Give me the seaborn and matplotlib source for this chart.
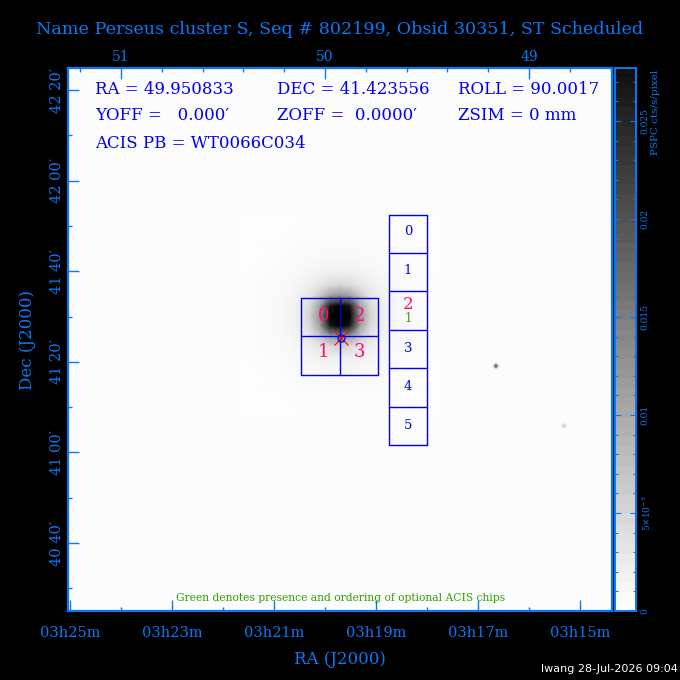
import numpy as np
import pandas as pd
import matplotlib.pyplot as plt
import seaborn as sns
from matplotlib.ticker import FixedLocator, NullFormatter

# sky frame of the image, in degrees
ra_limits = [51.26, 48.593]
dec_limits = [40.417, 42.414]

# RA ticks, bottom edge (hours/minutes) and top edge (degrees)
ra_major = [51.25, 50.75, 50.25, 49.75, 49.25, 48.75]
ra_major_labels = ["03h25m", "03h23m", "03h21m", "03h19m", "03h17m", "03h15m"]
ra_minor = [51.0, 50.5, 50.0, 49.5, 49.0]
top_major = [51, 50, 49]
top_minor = [51.2, 50.8, 50.6, 50.4, 50.2, 49.8, 49.6, 49.4, 49.2, 48.8, 48.6]

dec_major = [42.3333, 42.0, 41.6667, 41.3333, 41.0, 40.6667]
dec_major_labels = ["42 20\u2032", "42 00\u2032", "41 40\u2032", "41 20\u2032", "41 00\u2032", "40 40\u2032"]
dec_minor = [42.1667, 41.8333, 41.5, 41.1667, 40.8333, 40.5]

# surface brightness around the cluster core, 1e-4 PSPC cts/s/pixel, 10 px per cell
# one quadrant, centre at the top left, mirrored below
core_quadrant = np.array([
    [400, 330, 120, 50, 22, 12, 8, 6, 5, 4, 3],
    [330, 250, 105, 42, 21, 12, 8, 6, 5, 4, 3],
    [120, 105, 60, 30, 16, 10, 7, 6, 5, 4, 3],
    [50, 42, 30, 19, 12, 8, 7, 6, 5, 4, 3],
    [22, 21, 16, 12, 9, 7, 6, 5, 4, 4, 3],
    [12, 12, 10, 8, 7, 6, 5, 4, 4, 3, 3],
    [8, 8, 7, 7, 6, 5, 4, 4, 3, 3, 3],
    [6, 6, 6, 6, 5, 4, 4, 4, 3, 3, 3],
    [5, 5, 5, 5, 4, 4, 3, 3, 3, 3, 3],
    [4, 4, 4, 4, 4, 3, 3, 3, 3, 3, 3],
    [3, 3, 3, 3, 3, 3, 3, 3, 3, 3, 3],
])

# faint point sources, bright centre and soft halo
source_ra = [49.162, 48.828]
source_dec = [41.318, 41.098]
source_rate = [0.016, 0.005]
halo_rate = [0.004, 0.0015]

# ACIS-I and ACIS-S chip edges
acis_i_ra = [50.1176, 49.9289, 49.7402]
acis_i_dec = [41.5686, 41.4271, 41.2853]
acis_s_ra = [49.6863, 49.5]
acis_s_dec = [41.8735, 41.734, 41.594, 41.451, 41.311, 41.168, 41.028]

acis_i_labels = ["0", "1", "2", "3"]
acis_i_label_ra = [50.005, 50.005, 49.833, 49.833]
acis_i_label_dec = [41.502, 41.370, 41.502, 41.370]
acis_s_labels = ["0", "1", "3", "4", "5"]
acis_s_label_dec = [41.811, 41.671, 41.381, 41.241, 41.101]

aim_ra = 49.9216
aim_dec = 41.4213

cbar_major = [0, 0.005, 0.01, 0.015, 0.02, 0.025]
cbar_major_labels = ["0", "5\u00d710$^{-3}$", "0.01", "0.015", "0.02", "0.025"]
cbar_minor = [0.001, 0.002, 0.003, 0.004, 0.006, 0.007, 0.008, 0.009, 0.011, 0.012,
              0.013, 0.014, 0.016, 0.017, 0.018, 0.019, 0.021, 0.022, 0.023, 0.024,
              0.026, 0.027]
cbar_top = 0.0277

info_lines = [
    (95, 89, "RA = 49.950833"), (277, 89, "DEC = 41.423556"), (458, 89, "ROLL = 90.0017"),
    (95, 116, "YOFF =   0.000\u2032"), (277, 116, "ZOFF =  0.0000\u2032"), (458, 116, "ZSIM = 0 mm"),
    (95, 143, "ACIS PB = WT0066C034"),
]

TICK_BLUE = "#0a78f5"
BLUE = "#0000f0"
PINK = "#ff0a78"
GREEN = "#2f9f00"

sns.set_theme(style="white")
plt.rcParams["font.family"] = ["DejaVu Serif"]

W = 680
gray_cmap = sns.blend_palette(["white", "black"], as_cmap=True)


def px_rect(x0, y0, x1, y1):
    return [x0 / W, 1 - y1 / W, (x1 - x0) / W, (y1 - y0) / W]


fig = plt.figure(figsize=(6.8, 6.8), dpi=100, facecolor="black")

# image layer
ax_bg = fig.add_axes(px_rect(68, 68, 612, 611), facecolor="#fcfcfc")
ax_bg.set_xticks([])
ax_bg.set_yticks([])

lower = np.hstack([core_quadrant[:, :0:-1], core_quadrant])
core_rate = np.vstack([lower[:0:-1], lower])

ax_img = fig.add_axes(px_rect(240, 216, 440, 416))
sns.heatmap(core_rate * 1e-4, ax=ax_img, cmap=gray_cmap, vmin=0, vmax=cbar_top, cbar=False,
            xticklabels=False, yticklabels=False, shading="gouraud")
ax_img.set_xlim(0, 20)
ax_img.set_ylim(20, 0)
ax_img.axis("off")

# sky axes on top of the image
ax = fig.add_axes(px_rect(68, 68, 612, 611), facecolor="none")
sources = pd.DataFrame({"ra": source_ra, "dec": source_dec, "rate": source_rate, "halo": halo_rate})
sns.scatterplot(data=sources, x="ra", y="dec", hue="halo", palette=gray_cmap, hue_norm=(0, cbar_top),
                s=24, linewidth=0, legend=False, ax=ax)
sns.scatterplot(data=sources, x="ra", y="dec", hue="rate", palette=gray_cmap, hue_norm=(0, cbar_top),
                s=6, linewidth=0, legend=False, ax=ax)
ax.set_xlim(ra_limits)
ax.set_ylim(dec_limits)
ax.set_xlabel("")
ax.set_ylabel("")

for spine in ax.spines.values():
    spine.set_color(TICK_BLUE)
    spine.set_linewidth(1.6)

ax.xaxis.set_major_locator(FixedLocator(ra_major))
ax.xaxis.set_minor_locator(FixedLocator(ra_minor))
ax.set_xticklabels(ra_major_labels, fontsize=10.5, color=TICK_BLUE)
ax.yaxis.set_major_locator(FixedLocator(dec_major))
ax.yaxis.set_minor_locator(FixedLocator(dec_minor))
ax.set_yticklabels(dec_major_labels, fontsize=10.5, color=TICK_BLUE, rotation=90, va="center")
ax.tick_params(which="major", direction="in", length=8, width=1, color=TICK_BLUE, bottom=True, left=True)
ax.tick_params(which="minor", direction="in", length=3, width=1, color=TICK_BLUE, bottom=True, left=True)
ax.tick_params(axis="x", which="major", pad=11)
ax.tick_params(axis="y", which="major", pad=3)

top = ax.secondary_xaxis("top")
top.xaxis.set_major_locator(FixedLocator(top_major))
top.xaxis.set_minor_locator(FixedLocator(top_minor))
top.xaxis.set_minor_formatter(NullFormatter())
top.set_xticklabels([str(v) for v in top_major], fontsize=10, color=TICK_BLUE)
top.tick_params(which="major", direction="in", length=8, width=1, color=TICK_BLUE, pad=3)
top.tick_params(which="minor", direction="in", length=3, width=1, color=TICK_BLUE)
top.spines["top"].set_visible(False)

# chip outlines
for ra in acis_i_ra:
    ax.plot([ra, ra], [acis_i_dec[0], acis_i_dec[-1]], color=BLUE, lw=1)
for dec in acis_i_dec:
    ax.plot([acis_i_ra[0], acis_i_ra[-1]], [dec, dec], color=BLUE, lw=1)
for ra in acis_s_ra:
    ax.plot([ra, ra], [acis_s_dec[0], acis_s_dec[-1]], color=BLUE, lw=1)
for dec in acis_s_dec:
    ax.plot(acis_s_ra, [dec, dec], color=BLUE, lw=1)

for label, ra, dec in zip(acis_i_labels, acis_i_label_ra, acis_i_label_dec):
    ax.text(ra, dec, label, color=PINK, fontsize=13, ha="center", va="center")
s_center = np.mean(acis_s_ra)
for label, dec in zip(acis_s_labels, acis_s_label_dec):
    ax.text(s_center, dec, label, color=BLUE, fontsize=9.5, ha="center", va="center")
ax.text(s_center, 41.545, "2", color=PINK, fontsize=12, ha="center", va="center")
ax.text(s_center, 41.493, "1", color=GREEN, fontsize=8.5, ha="center", va="center")

# aim point
ax.plot(aim_ra, aim_dec, marker="x", ms=10, mew=0.8, color="red")
ax.plot(aim_ra, aim_dec, marker="o", ms=5, mew=0.9, mfc="none", color=BLUE)
ax.plot(aim_ra, aim_dec, marker="o", ms=1.8, mew=0, color="red")

# colour bar
ax_ramp = fig.add_axes(px_rect(615, 68, 636, 611))
ramp = np.linspace(cbar_top, 0, 56).reshape(-1, 1)
sns.heatmap(ramp, ax=ax_ramp, cmap=gray_cmap, vmin=0, vmax=cbar_top * 1.07, cbar=False,
            xticklabels=False, yticklabels=False)
ax_ramp.axis("off")

ax_cb = fig.add_axes(px_rect(615, 68, 636, 611), facecolor="none")
ax_cb.set_ylim(0, cbar_top)
ax_cb.set_xticks([])
ax_cb.yaxis.tick_right()
ax_cb.yaxis.set_major_locator(FixedLocator(cbar_major))
ax_cb.yaxis.set_minor_locator(FixedLocator(cbar_minor))
ax_cb.set_yticklabels(cbar_major_labels, fontsize=6.5, color=TICK_BLUE, rotation=90, va="center")
ax_cb.tick_params(which="major", direction="in", length=4.5, width=0.8, color=TICK_BLUE, left=True, right=True, pad=3)
ax_cb.tick_params(which="minor", direction="in", length=2, width=0.8, color=TICK_BLUE, left=True, right=True)
for spine in ax_cb.spines.values():
    spine.set_color(TICK_BLUE)
    spine.set_linewidth(1.4)

# header and footer text
fig.text(340 / W, 1 - 29 / W, "Name Perseus cluster S, Seq # 802199, Obsid 30351, ST Scheduled",
         color=TICK_BLUE, fontsize=12.6, ha="center", va="center")
fig.text(340 / W, 1 - 660 / W, "RA (J2000)", color=TICK_BLUE, fontsize=12, ha="center", va="center")
fig.text(27 / W, 1 - 340 / W, "Dec (J2000)", color=TICK_BLUE, fontsize=12, rotation=90, ha="center", va="center")
fig.text(655 / W, 1 - 112 / W, "PSPC cts/s/pixel", color=TICK_BLUE, fontsize=7.5, rotation=90, ha="center", va="center")
fig.text(341 / W, 1 - 598 / W, "Green denotes presence and ordering of optional ACIS chips",
         color=GREEN, fontsize=7.75, ha="center", va="center")
fig.text(678 / W, 1 - 669 / W, "lwang 28-Jul-2026 09:04", color="white", fontsize=8,
         family="DejaVu Sans", ha="right", va="center")
for x, y, line in info_lines:
    fig.text(x / W, 1 - y / W, line, color=BLUE, fontsize=12, ha="left", va="center")

fig.savefig("out.png", dpi=100, facecolor="black")
